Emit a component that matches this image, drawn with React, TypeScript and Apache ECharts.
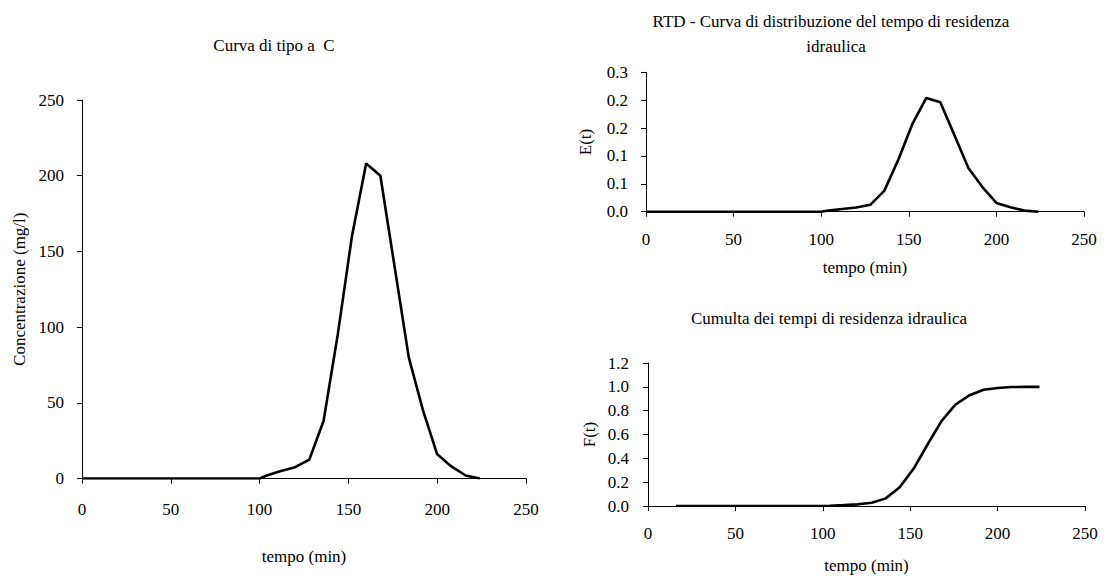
import React, { useEffect, useRef } from "react";
import * as echarts from "echarts";

// time (min) for concentration and E(t)
const timeC = [0, 10, 20, 30, 40, 50, 60, 70, 80, 90, 100, 104, 112, 120, 128, 136, 144, 152, 160, 168, 176, 184, 192, 200, 208, 216, 224];
// Concentrazione (mg/l)
const concentration = [0, 0, 0, 0, 0, 0, 0, 0, 0, 0, 0, 2, 5, 7.5, 12.5, 38, 95, 160, 208, 200, 140, 80, 45, 16, 8, 2, 0];
// E(t)
const eValues = [0, 0, 0, 0, 0, 0, 0, 0, 0, 0, 0, 0.002, 0.0049, 0.0074, 0.0123, 0.0373, 0.0932, 0.157, 0.2041, 0.1963, 0.1374, 0.0785, 0.0442, 0.0157, 0.0079, 0.002, 0];
// time (min) for F(t)
const timeF = [16, 30, 40, 50, 60, 70, 80, 90, 100, 104, 112, 120, 128, 136, 144, 152, 160, 168, 176, 184, 192, 200, 208, 216, 224];
// F(t)
const fValues = [0, 0, 0, 0, 0, 0, 0, 0, 0, 0.002, 0.007, 0.014, 0.027, 0.064, 0.157, 0.314, 0.518, 0.715, 0.852, 0.93, 0.975, 0.99, 0.998, 1.0, 1.0];

// tick labels of the E(t) axis (Excel rounding of 0, 0.05, ..., 0.25)
const eTickLabels = ["0.0", "0.1", "0.1", "0.2", "0.2", "0.3"];

const titleLeft = "Curva di tipo a  C";
const titleTopRight1 = "RTD - Curva di distribuzione del tempo di residenza";
const titleTopRight2 = "idraulica";
const titleBottomRight = "Cumulta dei tempi di residenza idraulica";

const FONT = '"Liberation Serif", "Times New Roman", serif';
const FS = 17;

function xAxisCfg(gridIndex: number, nameGap: number, labelMargin: number) {
  return {
    type: "value",
    gridIndex,
    min: 0,
    max: 250,
    interval: 50,
    name: "tempo (min)",
    nameLocation: "middle",
    nameGap,
    nameTextStyle: { color: "#000", fontFamily: FONT, fontSize: FS },
    axisLine: { show: true, onZero: false, lineStyle: { color: "#000", width: 1 } },
    axisTick: { show: true, inside: false, length: 5, lineStyle: { color: "#000" } },
    axisLabel: { color: "#000", fontFamily: FONT, fontSize: FS, margin: labelMargin },
    splitLine: { show: false },
  };
}

export default function App() {
  const ref = useRef<HTMLDivElement>(null);
  useEffect(() => {
    if (!ref.current) return;
    const chart = echarts.init(ref.current, undefined, { renderer: "svg" });
    const lineStyle = { color: "#000", width: 2.6 };
    const textStyle = (text: string, x: number, y: number) => ({
      type: "text",
      x,
      y,
      style: {
        text,
        fontFamily: FONT,
        fontSize: FS,
        fill: "#000",
        align: "center",
        verticalAlign: "middle",
      },
    });
    chart.setOption({
      animation: false,
      backgroundColor: "#fff",
      graphic: [
        textStyle(titleLeft, 274, 45),
        textStyle(titleTopRight1, 831, 21),
        textStyle(titleTopRight2, 836, 46),
        textStyle(titleBottomRight, 829, 318),
      ],
      grid: [
        { left: 82, top: 100, width: 444, height: 378.5 },
        { left: 646, top: 72.3, width: 438, height: 139.4 },
        { left: 648, top: 363, width: 437, height: 143 },
      ],
      xAxis: [xAxisCfg(0, 69, 22), xAxisCfg(1, 47, 19), xAxisCfg(2, 51, 19)],
      yAxis: [
        {
          type: "value",
          gridIndex: 0,
          min: 0,
          max: 250,
          interval: 50,
          name: "Concentrazione (mg/l)",
          nameLocation: "middle",
          nameGap: 54,
          nameTextStyle: { color: "#000", fontFamily: FONT, fontSize: FS },
          axisLine: { show: true, lineStyle: { color: "#000", width: 1 } },
          axisTick: { show: true, inside: false, length: 5, lineStyle: { color: "#000" } },
          axisLabel: { color: "#000", fontFamily: FONT, fontSize: FS, margin: 18 },
          splitLine: { show: false },
        },
        {
          type: "value",
          gridIndex: 1,
          min: 0,
          max: 0.25,
          interval: 0.05,
          name: "E(t)",
          nameLocation: "middle",
          nameGap: 52,
          nameTextStyle: { color: "#000", fontFamily: FONT, fontSize: FS },
          axisLine: { show: true, lineStyle: { color: "#000", width: 1 } },
          axisTick: { show: true, inside: false, length: 5, lineStyle: { color: "#000" } },
          axisLabel: {
            color: "#000",
            fontFamily: FONT,
            fontSize: FS,
            margin: 18,
            formatter: (v: number) => eTickLabels[Math.round(v / 0.05)] ?? "",
          },
          splitLine: { show: false },
        },
        {
          type: "value",
          gridIndex: 2,
          min: 0,
          max: 1.2,
          interval: 0.2,
          name: "F(t)",
          nameLocation: "middle",
          nameGap: 50,
          nameTextStyle: { color: "#000", fontFamily: FONT, fontSize: FS },
          axisLine: { show: true, lineStyle: { color: "#000", width: 1 } },
          axisTick: { show: true, inside: false, length: 5, lineStyle: { color: "#000" } },
          axisLabel: {
            color: "#000",
            fontFamily: FONT,
            fontSize: FS,
            margin: 19,
            formatter: (v: number) => v.toFixed(1),
          },
          splitLine: { show: false },
        },
      ],
      series: [
        {
          type: "line",
          xAxisIndex: 0,
          yAxisIndex: 0,
          showSymbol: false,
          symbol: "none",
          lineStyle,
          data: timeC.map((t, i) => [t, concentration[i]]),
        },
        {
          type: "line",
          xAxisIndex: 1,
          yAxisIndex: 1,
          showSymbol: false,
          symbol: "none",
          lineStyle,
          data: timeC.map((t, i) => [t, eValues[i]]),
        },
        {
          type: "line",
          xAxisIndex: 2,
          yAxisIndex: 2,
          showSymbol: false,
          symbol: "none",
          lineStyle,
          data: timeF.map((t, i) => [t, fValues[i]]),
        },
      ],
    });
    return () => chart.dispose();
  }, []);
  return (
    <div
      ref={ref}
      style={{ position: "fixed", left: 0, top: 0, width: 1104, height: 576, background: "#fff" }}
    />
  );
}
